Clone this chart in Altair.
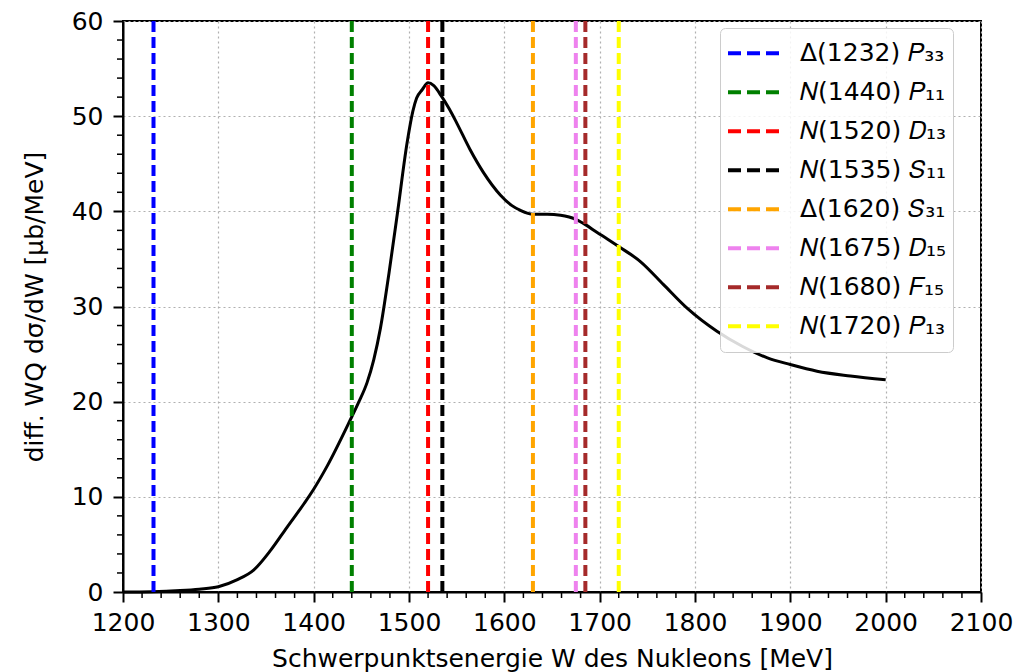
import altair as alt
import pandas as pd

# Curve: differential cross section vs. centre-of-mass energy
W = [1200, 1230, 1260, 1280, 1300, 1320, 1337, 1355, 1372, 1390, 1400, 1414,
     1438, 1447, 1456, 1463, 1470, 1479, 1488, 1498, 1504, 1508, 1514, 1520,
     1526, 1534, 1542, 1550, 1564, 1578, 1596, 1608, 1617, 1630, 1645, 1659, 1668,
     1676, 1685, 1697, 1708, 1720, 1743, 1767, 1792, 1823, 1850, 1876, 1900, 1928,
     1963, 2000]
sigma = [0.0, 0.03, 0.15, 0.3, 0.55, 1.3, 2.3, 4.4, 6.8, 9.3, 10.8, 13.2,
         18.0, 19.9, 22.0, 24.4, 27.7, 33.5, 39.9, 47.2, 50.5, 51.9, 52.8, 53.5,
         53.2, 52.1, 50.8, 49.3, 46.5, 44.1, 41.7, 40.6, 40.1, 39.7, 39.7, 39.6, 39.4,
         39.1, 38.6, 37.8, 37.1, 36.3, 34.7, 32.3, 29.8, 27.4, 25.8, 24.6, 23.9, 23.2,
         22.7, 22.3]

# Resonances
res_labels = ["Δ(1232) 𝑃₃₃", "𝑁(1440) 𝑃₁₁", "𝑁(1520) 𝐷₁₃", "𝑁(1535) 𝑆₁₁",
              "Δ(1620) 𝑆₃₁", "𝑁(1675) 𝐷₁₅", "𝑁(1680) 𝐹₁₅", "𝑁(1720) 𝑃₁₃"]
res_pos = [1232, 1440, 1520, 1535, 1630, 1675, 1685, 1720]
res_colors = ["#0000ff", "#008000", "#ff0000", "#000000",
              "#ffa500", "#ee82ee", "#a52a2a", "#ffff00"]

x_major = list(range(1200, 2101, 100))
y_major = list(range(0, 61, 10))
x_minor = [v for v in range(1200, 2101, 20) if v % 100 != 0]
y_minor = [v for v in range(0, 61, 2) if v % 10 != 0]

curve = pd.DataFrame({"W": W, "sigma": sigma})
res = pd.DataFrame({"label": res_labels, "pos": res_pos})

PLOT_W, PLOT_H = 858, 571

xscale = alt.Scale(domain=[1200, 2100], nice=False, zero=False)
yscale = alt.Scale(domain=[0, 60], nice=False)

x_axis = alt.Axis(
    values=x_major, title="Schwerpunktsenergie W des Nukleons [MeV]",
    grid=True, tickSize=10, tickWidth=2,
    labelPadding=8.5, titlePadding=11, format="d",
    labelFlush=False, labelOverlap=False,
)
y_axis = alt.Axis(
    values=y_major, title="diff. WQ dσ/dW [µb/MeV]",
    grid=True, tickSize=10, tickWidth=2,
    labelPadding=10, titlePadding=24, format="d", labelOverlap=False,
)

line = alt.Chart(curve).mark_line(color="black", strokeWidth=3, interpolate="monotone").encode(
    x=alt.X("W:Q", scale=xscale, axis=x_axis),
    y=alt.Y("sigma:Q", scale=yscale, axis=y_axis),
)

rules = alt.Chart(res).mark_rule(strokeWidth=4, strokeDash=[11, 5]).encode(
    x=alt.X("pos:Q", scale=xscale, axis=x_axis),
    y=alt.YDatum(0, type="quantitative", scale=yscale, axis=y_axis),
    y2=alt.Y2Datum(60),
    color=alt.Color("label:N",
                    scale=alt.Scale(domain=res_labels, range=res_colors),
                    legend=alt.Legend(title=None, orient="none", legendX=597, legendY=7,
                                      symbolType="stroke", symbolSize=2704,
                                      symbolStrokeWidth=4, symbolDash=[13, 6],
                                      labelFontSize=25, labelFont="DejaVu Sans",
                                      labelColor="black", labelOffset=18, labelLimit=400,
                                      clipHeight=38.5, rowPadding=0, padding=6,
                                      fillColor="rgba(255,255,255,0.85)",
                                      strokeColor="#cccccc", cornerRadius=5)),
)

# minor ticks (outside the plot frame)
minor_x = alt.Chart(pd.DataFrame({"v": x_minor})).mark_rule(color="black", strokeWidth=1.5).encode(
    x=alt.X("v:Q", scale=xscale, axis=x_axis),
    y=alt.value(PLOT_H), y2=alt.value(PLOT_H + 6),
)
minor_y = alt.Chart(pd.DataFrame({"v": y_minor})).mark_rule(color="black", strokeWidth=1.5).encode(
    y=alt.Y("v:Q", scale=yscale, axis=y_axis),
    x=alt.value(0), x2=alt.value(-6),
)

chart = alt.layer(line, rules, minor_x, minor_y).properties(
    width=PLOT_W, height=PLOT_H,
    autosize=alt.AutoSizeParams(type="none"),
    padding={"left": 115, "top": 13, "right": 40, "bottom": 80},
).configure_view(stroke="black", strokeWidth=2).configure_axis(
    labelFont="DejaVu Sans", titleFont="DejaVu Sans",
    labelFontSize=25, titleFontSize=25, titleFontWeight="normal",
    labelColor="black", titleColor="black",
    tickColor="black", domainColor="black", domainWidth=2,
    gridColor="#b0b0b0", gridDash=[2, 3], gridWidth=1.2,
)

chart.save("out.html", embed_options={"renderer": "svg", "actions": False})
